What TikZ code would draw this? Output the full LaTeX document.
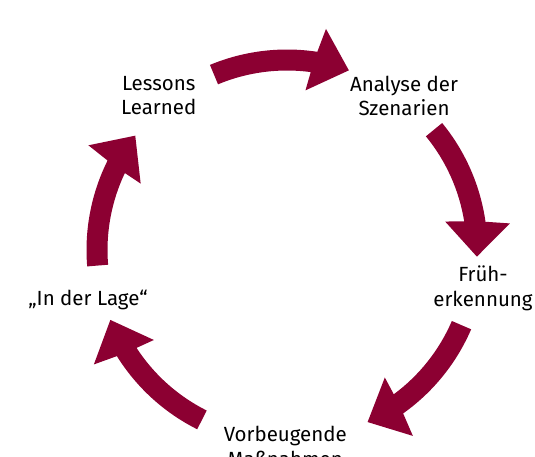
\documentclass[tikz,border=0pt]{standalone}
\usepackage{fontspec}
\setmainfont{Fira Sans}
\definecolor{cyclered}{RGB}{140,0,50}
\newcommand\cyclearrow[3]{%
  \fill[cyc] (#1:200.5) arc[start angle=#1, end angle=#2-0.4, radius=200.5]
    -- (#2-1.7:224.5) -- (#3:190) -- (#2+1.7:160.7) -- (#2+0.7:179.5)
    arc[start angle=#2+0.7, end angle=#1, radius=179.5] -- cycle;}
\begin{document}
\begin{tikzpicture}[x=1pt,y=1pt,
  lbl/.style={font=\fontsize{20.5}{24.3}\selectfont, align=center, anchor=base, inner sep=0pt},
  cyc/.style={fill=cyclered}]
\useasboundingbox (0,0) rectangle (535,456);
\coordinate (C) at (287,206);
\node[lbl] (lessons) at (158.7,341) {Lessons\\Learned};
\node[lbl] (analyse) at (404,340.5) {Analyse der\\Szenarien};
\node[lbl] (frueh) at (483,150) {Früh-\\erkennung};
\node[lbl] (vorb) at (285.3,-10) {Vorbeugende\\Maßnahmen};
\node[lbl] (lage) at (88,151) {„In der Lage“};
\begin{scope}[shift={(C)}]
  \cyclearrow{112.6}{81.7}{71.0}
  \cyclearrow{39.3}{8.5}{-2.0}
  \cyclearrow{-23.3}{-54.2}{-64.9}
  \cyclearrow{243.4}{212.35}{201.6}
  \cyclearrow{184.7}{153.9}{143.0}
\end{scope}
\end{tikzpicture}
\end{document}
